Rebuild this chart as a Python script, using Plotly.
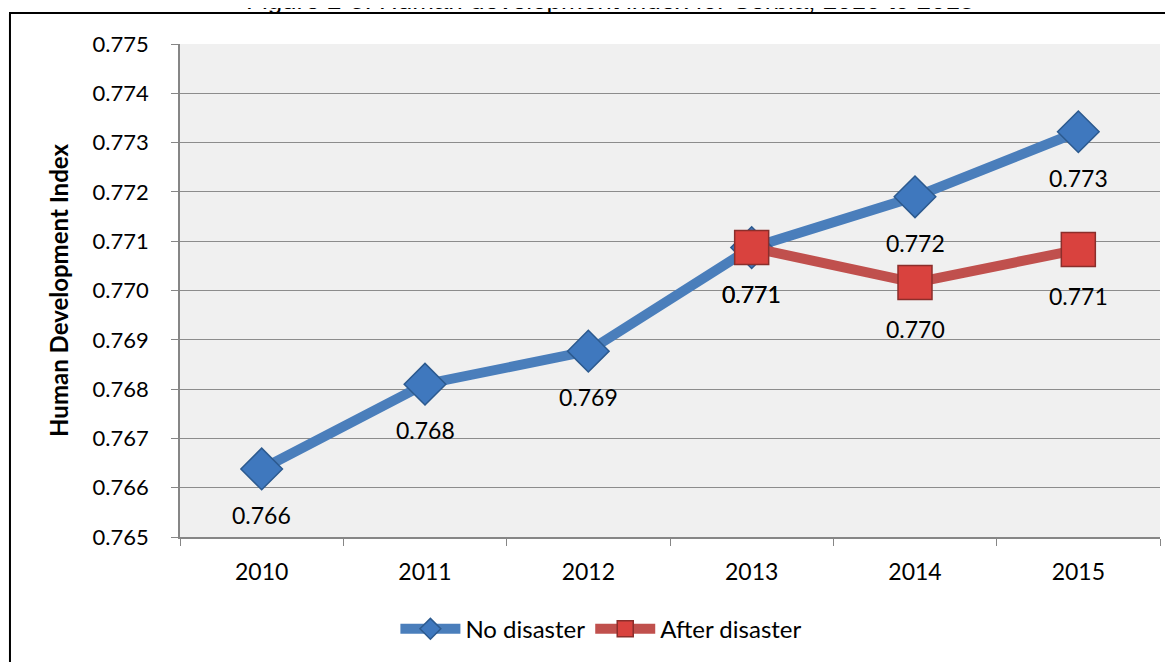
import plotly.graph_objects as go

years = ["2010", "2011", "2012", "2013", "2014", "2015"]
no_disaster = [0.76638, 0.76810, 0.76877, 0.77087, 0.77190, 0.77322]
after_years = ["2013", "2014", "2015"]
after_disaster = [0.77087, 0.77016, 0.77083]
y_ticks = [0.765, 0.766, 0.767, 0.768, 0.769, 0.770, 0.771, 0.772, 0.773, 0.774, 0.775]

BLUE = "#4A7EBB"
RED = "#C0504D"
FONT = "Lato, Carlito, 'Open Sans', sans-serif"

fig = go.Figure()
fig.add_trace(go.Scatter(
    x=years, y=no_disaster, name="No disaster", mode="lines+markers",
    line=dict(color=BLUE, width=10),
    marker=dict(symbol="diamond", size=32, color="#3F78BE", line=dict(color="#2C5A8F", width=1.5)),
))
fig.add_trace(go.Scatter(
    x=after_years, y=after_disaster, name="After disaster", mode="lines+markers",
    line=dict(color=RED, width=10),
    marker=dict(symbol="square", size=34, color="#D9423E", line=dict(color="#8B2E2B", width=1.5)),
))

for xs, ys in ((years, no_disaster), (after_years, after_disaster)):
    for x, y in zip(xs, ys):
        fig.add_annotation(x=years.index(x), y=y, text=f"{y:.3f}", showarrow=False, yshift=-46,
                           font=dict(family=FONT, size=23, color="black"))

fig.add_annotation(xref="paper", yref="paper", x=0.439, y=1.0, yshift=44,
                   text="Figure 2-8: Human development index for Serbia, 2010 to 2015",
                   showarrow=False, font=dict(family="Arial, Liberation Sans", size=26, color="black"),
                   yanchor="middle")

fig.add_shape(type="rect", xref="paper", yref="paper", x0=-0.1735, x1=1.2, y0=-0.5, y1=1.0628,
              line=dict(color="black", width=2), fillcolor="rgba(0,0,0,0)", layer="below")

fig.update_layout(
    width=1165, height=654,
    margin=dict(l=172, r=13, t=36, b=124),
    paper_bgcolor="white", plot_bgcolor="#F0F0F0",
    font=dict(family=FONT, size=21, color="black"),
    showlegend=True,
    legend=dict(orientation="h", x=0.43, xanchor="center", y=-0.139, yanchor="top",
                font=dict(family=FONT, size=24), itemwidth=60),
    xaxis=dict(type="category", showgrid=False, showline=True, linecolor="#868686", linewidth=1.5,
               ticks="outside", tickson="boundaries", ticklen=7, tickcolor="#868686",
               tickfont=dict(size=23), ticklabelstandoff=14, range=[-0.5, 5.5]),
    yaxis=dict(range=[0.765, 0.775], tickvals=y_ticks, tickformat=".3f",
               showgrid=True, gridcolor="#8C8C8C", gridwidth=1.2,
               showline=True, linecolor="#868686", linewidth=1.5,
               ticks="outside", ticklen=7, tickcolor="#868686", zeroline=False,
               tickfont=dict(size=22), ticklabelstandoff=18,
               title=dict(text="<b>Human Development Index</b>", font=dict(size=24), standoff=17)),
)

fig.write_html("out.html")
